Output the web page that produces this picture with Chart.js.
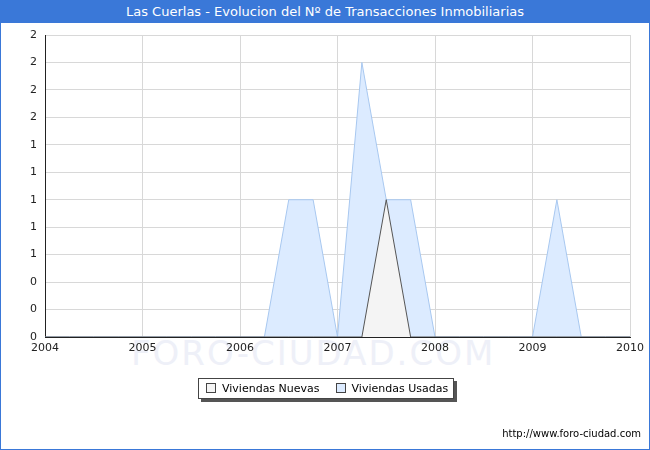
<!DOCTYPE html>
<html><head><meta charset="utf-8">
<script src="https://cdn.jsdelivr.net/npm/chart.js@4/dist/chart.umd.min.js"></script>
<style>
body{margin:0;background:#fff;font-family:Verdana,"DejaVu Sans",sans-serif;}
#wrap{position:relative;width:650px;height:450px;box-sizing:border-box;border:1px solid #3a78d8;}
#title{position:absolute;left:0;top:0;width:648px;height:22px;background:#3a78d8;color:#fff;font-size:13px;text-align:center;line-height:22px;}
#mark{position:absolute;left:130px;top:332px;font-size:34px;color:#eef0f8;letter-spacing:2px;font-family:"DejaVu Sans",sans-serif;}
canvas{position:absolute;left:0;top:0;}
#legend{position:absolute;left:197px;top:377px;width:254px;height:19px;border:1px solid #444;box-shadow:3px 3px 0 #555;font-size:11px;line-height:19px;background:#fff;}
#legend span.b{display:inline-block;width:8px;height:8px;border:1px solid #444;margin:0 6px 0 7px;vertical-align:-1px;}
#url{position:absolute;right:8px;top:427px;font-size:10px;}
</style></head><body>
<div id="wrap">
<div id="title">Las Cuerlas - Evolucion del Nº de Transacciones Inmobiliarias</div>
<div id="mark">FORO-CIUDAD.COM</div>
<canvas id="c" width="648" height="448"></canvas>
<div id="legend"><span class="b" style="background:#f4f4f4"></span>Viviendas Nuevas<span class="b" style="background:#dcebff;margin-left:16px"></span>Viviendas Usadas</div>
<div id="url">http://www.foro-ciudad.com</div>
</div>
<script>
const quarters = [2004,2004.25,2004.5,2004.75,2005,2005.25,2005.5,2005.75,2006,2006.25,2006.5,2006.75,2007,2007.25,2007.5,2007.75,2008,2008.25,2008.5,2008.75,2009,2009.25,2009.5,2009.75,2010];
const nuevas = [0,0,0,0,0,0,0,0,0,0,0,0,0,0,1,0,0,0,0,0,0,0,0,0,0];
const usadas = [0,0,0,0,0,0,0,0,0,0,1,1,0,2,1,1,0,0,0,0,0,1,0,0,0];
const yearTicks = [2004,2005,2006,2007,2008,2009,2010];
const pts = a => quarters.map((q,i)=>({x:q,y:a[i]}));
new Chart(document.getElementById('c'),{
  type:'line',
  data:{datasets:[
    {label:'Viviendas Nuevas',data:pts(nuevas),fill:'origin',backgroundColor:'#f4f4f4',borderColor:'#555',borderWidth:1,pointRadius:0,tension:0,order:1},
    {label:'Viviendas Usadas',data:pts(usadas),fill:'origin',backgroundColor:'#dcebff',borderColor:'#a8c8f0',borderWidth:1,pointRadius:0,tension:0,order:2}
  ]},
  options:{
    responsive:false,animation:false,
    layout:{padding:{left:0,right:19,top:34,bottom:92}},
    plugins:{legend:{display:false},tooltip:{enabled:false}},
    scales:{
      x:{type:'linear',min:2004,max:2010,
        afterBuildTicks:s=>{s.ticks=yearTicks.map(v=>({value:v}));},
        afterFit:s=>{s.height=20;},
        grid:{color:'#d8d8d8',drawTicks:false},border:{color:'#222'},
        ticks:{color:'#222',font:{size:11,family:'Verdana, DejaVu Sans'},padding:5,maxRotation:0,callback:v=>v}},
      y:{min:0,max:2.2,
        afterBuildTicks:s=>{s.ticks=[0,0.2,0.4,0.6,0.8,1,1.2,1.4,1.6,1.8,2,2.2].map(v=>({value:v}));},
        afterFit:s=>{s.width=44;},
        grid:{color:'#d8d8d8',drawTicks:false},border:{color:'#222'},
        ticks:{color:'#222',font:{size:11,family:'Verdana, DejaVu Sans'},padding:8,callback:v=>Math.round(v)}}
    }
  }
});
</script>
</body></html>
